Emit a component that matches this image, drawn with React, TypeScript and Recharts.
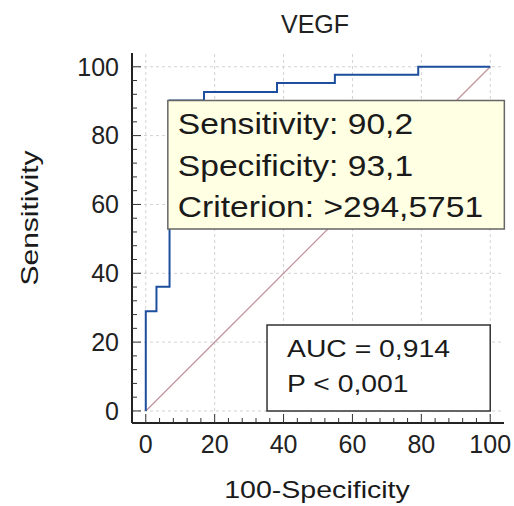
import React from "react";
import {
  ComposedChart,
  Line,
  XAxis,
  YAxis,
  ReferenceLine,
  ReferenceArea,
} from "recharts";

// ROC curve points (100-Specificity, Sensitivity)
const rocFpr = [0, 0, 3.1, 6.9, 16.9, 38.1, 54.9, 79.1, 100];
const rocTpr = [0, 29, 36.1, 90.2, 92.7, 95.3, 97.7, 100, 100];
const diagFpr = [0, 100];
const diagTpr = [0, 100];

const majorTicks = [0, 20, 40, 60, 80, 100];
const allTicks = [0, 4, 8, 12, 16, 20, 24, 28, 32, 36, 40, 44, 48, 52, 56, 60, 64, 68, 72, 76, 80, 84, 88, 92, 96, 100];

const title = "VEGF";
const xLabel = "100-Specificity";
const yLabel = "Sensitivity";
const criterionLines = ["Sensitivity: 90,2", "Specificity: 93,1", "Criterion: >294,5751"];
const criterionBox = { x1: 6.4, x2: 104.1, y1: 52.9, y2: 90.2 };
const aucLines = ["AUC = 0,914", "P < 0,001"];
const aucBox = { x1: 35.2, x2: 100, y1: 0, y2: 25 };

const rocData = rocFpr.map((x, i) => ({ x, y: rocTpr[i] }));
const diagData = diagFpr.map((x, i) => ({ x, y: diagTpr[i] }));

const FONT = "'Liberation Sans', Arial, sans-serif";
const TEXT = "#222";

const YTick = (props: any) => {
  const { x, y, payload } = props;
  const v = payload.value;
  const major = v % 20 === 0;
  const axisX = x + 12;
  return (
    <g>
      <line x1={axisX} x2={axisX + (major ? 9 : 5)} y1={y} y2={y} stroke="#333" strokeWidth={1} />
      {major && (
        <text x={x - 1} y={y} dy="0.35em" textAnchor="end" fontFamily={FONT} fontSize={25} fill={TEXT}>
          {v}
        </text>
      )}
    </g>
  );
};

const XTick = (props: any) => {
  const { x, y, payload } = props;
  const v = payload.value;
  const major = v % 20 === 0;
  const axisY = y - 12;
  return (
    <g>
      <line x1={x} x2={x} y1={axisY} y2={axisY - (major ? 9 : 5)} stroke="#333" strokeWidth={1} />
      {major && (
        <text x={x} y={y} dy="0.72em" textAnchor="middle" fontFamily={FONT} fontSize={25} fill={TEXT}>
          {v}
        </text>
      )}
    </g>
  );
};

const StretchText = ({ x, y, sx, size, children, anchor = "start", rotate = 0 }: any) => (
  <text
    transform={`translate(${x} ${y}) rotate(${rotate}) scale(${sx} 1)`}
    x={0}
    y={0}
    textAnchor={anchor}
    fontFamily={FONT}
    fontSize={size}
    fill="#1a1a1a"
  >
    {children}
  </text>
);

const boxLabel = (lines: string[], fontSize: number, sx: number, padX: number, padTop: number, lineH: number) =>
  (props: any) => {
    const vb = props.viewBox || {};
    return (
      <g>
        {lines.map((t, i) => (
          <StretchText key={i} x={vb.x + padX} y={vb.y + padTop + i * lineH} sx={sx} size={fontSize}>
            {t}
          </StretchText>
        ))}
      </g>
    );
  };

export default function App() {
  return (
    <div style={{ position: "absolute", left: 0, top: 0, width: 514, height: 506, background: "#fff" }}>
      <ComposedChart
        width={514}
        height={506}
        margin={{ top: 53, right: 10, bottom: 53, left: 72 }}
      >
        <XAxis
          type="number"
          dataKey="x"
          domain={[-4, 104]}
          ticks={allTicks}
          interval={0}
          tickLine={false}
          tickSize={0}
          tickMargin={12}
          height={30}
          axisLine={{ stroke: "#222", strokeWidth: 2 }}
          tick={<XTick />}
          allowDataOverflow
        />
        <YAxis
          type="number"
          dataKey="y"
          domain={[-3.5, 104]}
          ticks={allTicks}
          interval={0}
          tickLine={false}
          tickSize={0}
          tickMargin={12}
          width={60}
          axisLine={{ stroke: "#222", strokeWidth: 2 }}
          tick={<YTick />}
          allowDataOverflow
        />
        {majorTicks.map((v) => (
          <ReferenceLine key={"gx" + v} x={v} stroke="#d2d2d2" strokeDasharray="3 3" ifOverflow="visible" />
        ))}
        {majorTicks.map((v) => (
          <ReferenceLine key={"gy" + v} y={v} stroke="#d2d2d2" strokeDasharray="3 3" ifOverflow="visible" />
        ))}
        <Line
          data={diagData}
          dataKey="y"
          type="linear"
          stroke="#c08f98"
          strokeWidth={1.2}
          dot={false}
          isAnimationActive={false}
        />
        <Line
          data={rocData}
          dataKey="y"
          type="stepAfter"
          stroke="#1d4f9e"
          strokeWidth={2}
          dot={false}
          isAnimationActive={false}
        />
        <ReferenceArea
          x1={criterionBox.x1}
          x2={criterionBox.x2}
          y1={criterionBox.y1}
          y2={criterionBox.y2}
          fill="#ffffe3"
          fillOpacity={1}
          stroke="#666"
          strokeWidth={1.5}
          ifOverflow="visible"
          zIndex={1500}
          label={boxLabel(criterionLines, 30, 1.12, 10, 34, 41.5)}
        />
        <ReferenceArea
          x1={aucBox.x1}
          x2={aucBox.x2}
          y1={aucBox.y1}
          y2={aucBox.y2}
          fill="#ffffff"
          fillOpacity={1}
          stroke="#333"
          strokeWidth={1.5}
          ifOverflow="visible"
          zIndex={1500}
          label={boxLabel(aucLines, 24, 1.18, 20, 32, 35)}
        />
        <text x={315} y={24} dy="0.35em" textAnchor="middle" fontFamily={FONT} fontSize={25} fill={TEXT}>
          {title}
        </text>
        <StretchText x={317} y={498} sx={1.19} size={24} anchor="middle">
          {xLabel}
        </StretchText>
        <StretchText x={38} y={218} sx={1.25} size={24} anchor="middle" rotate={-90}>
          {yLabel}
        </StretchText>
      </ComposedChart>
    </div>
  );
}
